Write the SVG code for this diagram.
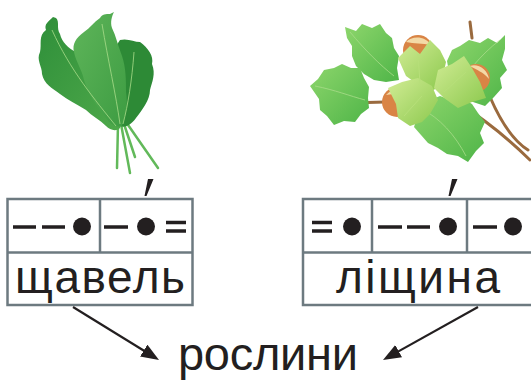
<svg xmlns="http://www.w3.org/2000/svg" width="531" height="380" viewBox="0 0 531 380">
<style>
.tbl{fill:#fff;stroke:#6d7a80;stroke-width:2.5}
.div{stroke:#6d7a80;stroke-width:2.5}
.sym{stroke:#231f20;stroke-width:3.5;stroke-linecap:butt}
.dot{fill:#231f20}
.word{font-family:"Liberation Sans",Arial,sans-serif;font-size:46px;fill:#231f20}
.arr{stroke:#231f20;stroke-width:2.2;fill:none}
.stem{stroke:#62b95a;stroke-width:2.5;stroke-linecap:round;fill:none}
.vein{stroke:#a9dc8a;stroke-width:1;fill:none;opacity:0.8}
.hleaf{fill:url(#hz)}
.husk{fill:url(#hk)}
.nut{fill:#d98445}
.twig{stroke:#9a6a3e;stroke-width:3;fill:none;stroke-linecap:round}
</style>
<defs>
<linearGradient id="sg" x1="0" y1="0" x2="1" y2="1">
<stop offset="0" stop-color="#2f8f3a"/><stop offset="1" stop-color="#4ea94a"/>
</linearGradient>
<linearGradient id="sg2" x1="0" y1="0" x2="1" y2="1">
<stop offset="0" stop-color="#5fb55a"/><stop offset="1" stop-color="#3d9c42"/>
</linearGradient>
<linearGradient id="hz" x1="0" y1="0" x2="1" y2="1">
<stop offset="0" stop-color="#8ed66c"/><stop offset="1" stop-color="#4fb548"/>
</linearGradient>
<linearGradient id="hk" x1="0" y1="0" x2="1" y2="1">
<stop offset="0" stop-color="#d2ec95"/><stop offset="1" stop-color="#8cc94e"/>
</linearGradient>
<marker id="ah" markerUnits="userSpaceOnUse" markerWidth="20" markerHeight="16" refX="8" refY="7" orient="auto">
<path d="M0,0 L18,7 L0,14 Z" fill="#231f20"/>
</marker>
</defs>

<g id="sorrel">
<path class="stem" d="M118,124 L117,168 M121,124 L130,173 M124,124 L135,157 M126,122 L158,168"/>
<path fill="url(#sg)" d="M53,17 C48,22 44,24 46,30 C38,36 42,44 40,52 C36,60 42,66 42,74 C44,84 52,88 60,94 C68,100 76,104 86,110 C92,116 100,120 106,126 C110,130 116,132 120,128 C122,118 118,108 112,98 C106,88 100,80 96,70 C90,62 84,56 76,52 C68,48 62,42 60,34 C56,28 60,22 56,18 Z"/>
<path fill="#2d8a36" d="M120,40 C128,38 134,42 140,42 C148,48 154,56 152,64 C156,74 152,82 150,90 C150,100 142,110 136,118 C130,126 124,128 120,126 C118,112 118,98 116,84 C114,70 114,56 116,46 Z"/>
<path fill="url(#sg2)" d="M110,14 C106,14 102,14 100,18 C94,22 90,28 84,32 C76,38 72,44 74,52 C76,62 82,70 84,80 C88,94 98,108 106,118 C110,124 116,128 122,126 C126,116 128,104 126,92 C126,80 126,68 122,56 C118,46 116,36 112,28 C110,22 112,16 114,12 Z"/>
<path class="vein" d="M52,30 C70,70 95,100 116,126 M102,24 C108,60 116,95 120,124 M134,52 C132,80 128,105 123,124"/>
</g>

<g id="hazel">
<path class="twig" d="M440,90 C470,110 500,130 530,160 M490,97 C500,120 512,140 528,150 M470,22 L472,38 M350,103 L385,102"/>
<ellipse cx="352" cy="103" rx="6" ry="4" fill="#b5703a"/>
<path class="hleaf" d="M345,27 L356,31 L362,24 L372,28 L380,24 L386,33 L392,38 L394,48 L399,56 L397,68 L399,80 L386,82 L374,80 L364,74 L356,66 L352,56 L352,46 L347,38 Z"/>
<path class="hleaf" d="M310,86 L318,79 L324,70 L334,68 L342,64 L351,68 L360,68 L364,78 L369,87 L368,98 L369,108 L361,114 L355,122 L344,121 L334,125 L327,116 L320,110 L319,99 Z"/>
<path class="hleaf" d="M505,35 L497,43 L488,38 L480,43 L469,40 L460,46 L452,50 L447,61 L449,72 L447,84 L456,92 L460,100 L473,102 L485,106 L494,97 L502,88 L500,78 L507,70 L502,60 L505,49 Z"/>
<path class="hleaf" d="M410,110 L420,103 L430,100 L440,96 L451,100 L462,98 L472,104 L478,113 L485,122 L480,133 L484,143 L476,151 L468,162 L458,156 L447,154 L438,148 L428,143 L421,135 L414,127 L417,118 Z"/>
<path class="vein" d="M350,32 C365,50 380,65 394,76 M315,86 C335,90 350,96 365,100 M500,40 C480,55 465,75 456,90 M466,156 C455,135 440,118 420,108"/>
<circle class="nut" cx="418" cy="50" r="15"/>
<circle class="nut" cx="476" cy="78" r="14"/>
<circle class="nut" cx="397" cy="102" r="15"/>
<path fill="#f3d9a6" d="M406,42 C412,35 426,36 431,45 C422,43 414,44 406,42 Z M470,66 C478,63 488,70 489,79 C483,72 477,70 470,66 Z M386,95 C392,88 402,87 407,92 C400,93 393,94 386,95 Z"/>
<path class="husk" d="M398,58 L410,46 L420,54 L430,40 L440,50 L446,62 L442,80 L434,90 L420,86 L406,76 Z"/>
<path class="husk" d="M438,70 L452,64 L464,56 L472,68 L480,82 L486,98 L472,102 L458,108 L444,98 L434,88 Z"/>
<path class="husk" d="M388,88 L402,82 L418,78 L432,86 L438,100 L430,114 L422,122 L410,126 L398,118 L396,104 Z"/>
<path stroke="#b7df7a" stroke-width="1" fill="none" d="M420,84 L418,54 M444,92 L466,72 M422,96 L404,116"/>
</g>

<g id="table-left">
<rect class="tbl" x="7.5" y="199" width="185" height="106"/>
<line class="div" x1="7.5" y1="252.5" x2="192.5" y2="252.5"/>
<line class="div" x1="100" y1="199" x2="100" y2="252.5"/>
<path class="sym" d="M13,227 H36 M42,227 H65 M104,227 H128 M166,222.5 H186 M166,231 H186"/>
<circle class="dot" cx="82" cy="226.5" r="9"/>
<circle class="dot" cx="146" cy="226.5" r="9"/>
<path class="dot" d="M148,179 L153.5,179 L146.5,196 L144.5,196 Z"/>
<text class="word" x="15" y="293" textLength="170" lengthAdjust="spacing">щавель</text>
</g>

<g id="table-right">
<rect class="tbl" x="303" y="199" width="240" height="106"/>
<line class="div" x1="303" y1="252.5" x2="543" y2="252.5"/>
<line class="div" x1="372" y1="199" x2="372" y2="252.5"/>
<line class="div" x1="467" y1="199" x2="467" y2="252.5"/>
<path class="sym" d="M312,222.5 H332 M312,231 H332 M378,227 H402 M407,227 H430 M473,227 H497"/>
<circle class="dot" cx="352" cy="226.5" r="9"/>
<circle class="dot" cx="448" cy="226.5" r="9"/>
<circle class="dot" cx="513" cy="226.5" r="9"/>
<path class="dot" d="M452,179 L457.5,179 L450.5,196 L448.5,196 Z"/>
<text class="word" x="336" y="293" textLength="164" lengthAdjust="spacing">ліщина</text>
</g>

<g id="connectors">
<line class="arr" x1="73" y1="307" x2="150.5" y2="354.8" marker-end="url(#ah)"/>
<line class="arr" x1="478" y1="307" x2="391.7" y2="355.1" marker-end="url(#ah)"/>
</g>

<g id="plants-label">
<text class="word" x="178" y="370" style="font-size:47px" textLength="180" lengthAdjust="spacing">рослини</text>
</g>
</svg>
